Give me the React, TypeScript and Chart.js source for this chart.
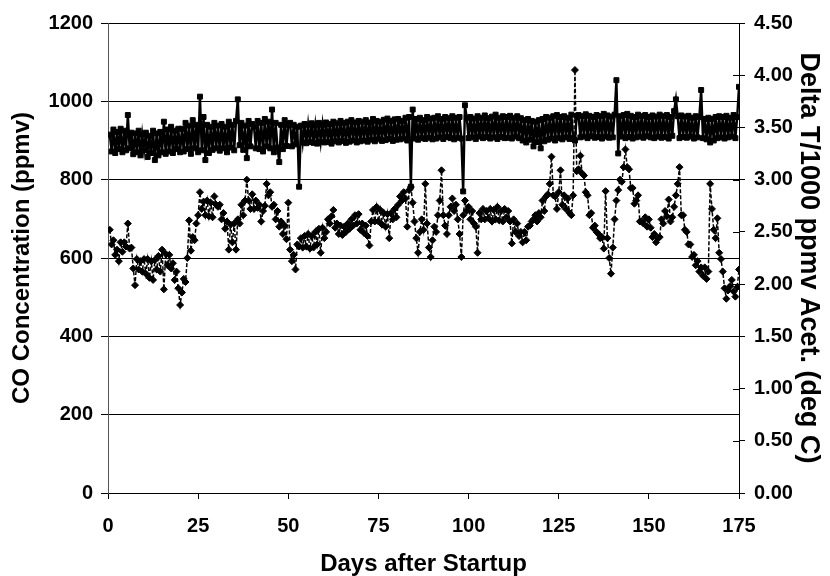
import React, { useEffect, useRef } from "react";
import { Chart, registerables } from "chart.js";

Chart.register(...registerables);

// Sampling grid (days after startup)
const FIRST_DAY = 0.5;
const DAY_STEP = 0.5;

// CO concentration (ppmv), left axis
const coPpmv: number[] = [
  915, 872, 928, 868, 922, 878, 930, 870, 925, 875, 965, 880, 920, 865, 918, 870, 925, 862, 915, 875,
  920, 858, 912, 868, 925, 850, 918, 862, 922, 870, 948, 866, 928, 872, 935, 868, 925, 878, 930, 870,
  930, 872, 945, 878, 938, 866, 952, 880, 940, 870, 1012, 875, 960, 850, 940, 868, 935, 876, 945, 880,
  938, 874, 942, 880, 935, 870, 948, 882, 940, 875, 950, 1005, 888, 945, 876, 938, 855, 950, 885, 942,
  935, 880, 950, 878, 945, 872, 955, 885, 948, 880, 979, 870, 945, 882, 845, 940, 878, 952, 886, 940,
  945, 885, 940, 890, 935, 782, 938, 895, 942, 893, 940, 896, 944, 894, 938, 892, 945, 897, 940, 895,
  946, 896, 942, 892, 948, 898, 944, 895, 950, 899, 945, 894, 948, 897, 952, 900, 946, 895, 950, 898,
  948, 900, 952, 897, 946, 902, 955, 898, 950, 903, 948, 899, 953, 901, 956, 904, 950, 899, 954, 902,
  955, 903, 950, 905, 958, 900, 960, 782, 979, 905, 955, 902, 958, 906, 952, 904, 960, 907, 956, 903,
  958, 905, 962, 908, 955, 904, 960, 909, 957, 906, 962, 903, 958, 907, 960, 905, 770, 990, 958, 906,
  960, 908, 956, 904, 962, 910, 958, 906, 964, 909, 957, 905, 961, 908, 966, 904, 958, 909, 962, 906,
  960, 907, 963, 905, 958, 910, 962, 906, 957, 900, 952, 895, 955, 902, 950, 885, 948, 896, 952, 880,
  955, 898, 960, 902, 958, 905, 962, 900, 965, 906, 960, 903, 962, 908, 958, 904, 966, 907, 900, 962,
  965, 908, 962, 910, 967, 906, 963, 911, 960, 907, 965, 909, 962, 905, 968, 910, 964, 907, 961, 908,
  966, 1054, 867, 962, 910, 965, 906, 968, 909, 963, 905, 960, 908, 966, 910, 962, 907, 965, 911, 960,
  908, 964, 906, 961, 910, 966, 907, 962, 909, 965, 905, 960, 912, 975, 1005, 962, 906, 964, 909, 961,
  907, 963, 910, 958, 905, 962, 908, 960, 1029, 906, 955, 903, 958, 895, 955, 900, 960, 906, 962, 908,
  960, 905, 963, 908, 958, 910, 965, 906, 960, 1037,
];

// Delta T per 1000 ppmv acetylene (deg C), right axis
const deltaT: number[] = [
  2.52, 2.38, 2.42, 2.28, 2.33, 2.22, 2.40, 2.31, 2.40, 2.36, 2.58, 2.34, 2.35, 2.15, 1.99, 2.24, 2.14, 2.22, 2.12, 2.24,
  2.10, 2.24, 2.06, 2.22, 2.04, 2.23, 2.14, 2.27, 2.12, 2.33, 1.95, 2.29, 2.18, 2.28, 2.15, 2.20, 2.04, 2.12, 1.96, 1.80,
  1.92, 2.05, 2.02, 2.25, 2.61, 2.32, 2.45, 2.42, 2.58, 2.66, 2.88, 2.72, 2.79, 2.66, 2.80, 2.65, 2.78, 2.64, 2.84, 2.76,
  2.74, 2.76, 2.62, 2.68, 2.53, 2.60, 2.33, 2.57, 2.40, 2.58, 2.33, 2.62, 2.58, 2.76, 2.66, 2.80, 3.00, 2.80, 2.72, 2.86,
  2.72, 2.80, 2.73, 2.76, 2.60, 2.70, 2.75, 2.96, 2.85, 2.88, 2.74, 2.76, 2.62, 2.70, 2.55, 2.60, 2.48, 2.56, 2.43, 2.78,
  2.33, 2.22, 2.28, 2.14, 2.38, 2.36, 2.44, 2.35, 2.46, 2.36, 2.48, 2.34, 2.46, 2.35, 2.50, 2.38, 2.53, 2.30, 2.54, 2.44,
  2.50, 2.62, 2.58, 2.65, 2.71, 2.54, 2.58, 2.48, 2.56, 2.47, 2.55, 2.50, 2.58, 2.53, 2.62, 2.56, 2.66, 2.58, 2.67, 2.52,
  2.58, 2.49, 2.56, 2.46, 2.37, 2.60, 2.71, 2.60, 2.74, 2.60, 2.71, 2.57, 2.68, 2.55, 2.67, 2.44, 2.68, 2.62, 2.72, 2.64,
  2.76, 2.84, 2.80, 2.88, 2.82, 2.55, 2.90, 2.93, 2.78, 2.60, 2.44, 2.30, 2.50, 2.62, 2.52, 2.96, 2.58, 2.35, 2.26, 2.42,
  2.55, 2.50, 2.66, 2.80, 3.09, 2.66, 2.56, 2.48, 2.66, 2.74, 2.82, 2.70, 2.76, 2.62, 2.48, 2.26, 2.66, 2.80, 2.70, 2.74,
  2.62, 2.70, 2.58, 2.55, 2.30, 2.68, 2.62, 2.72, 2.62, 2.70, 2.63, 2.72, 2.60, 2.71, 2.62, 2.74, 2.61, 2.70, 2.60, 2.72,
  2.64, 2.70, 2.60, 2.39, 2.62, 2.50, 2.58, 2.46, 2.50, 2.40, 2.50, 2.42, 2.55, 2.56, 2.60, 2.62, 2.66, 2.60, 2.68, 2.64,
  2.80, 2.70, 2.84, 2.86, 2.96, 3.22, 2.85, 2.84, 2.72, 2.88, 3.09, 2.76, 2.85, 2.72, 2.82, 2.68, 2.66, 2.85, 4.05, 3.08,
  3.10, 3.23, 3.06, 3.04, 2.88, 2.85, 2.66, 2.68, 2.54, 2.56, 2.50, 2.48, 2.44, 2.45, 2.34, 2.89, 2.44, 2.25, 2.10, 2.35,
  2.62, 2.80, 2.90, 3.00, 2.98, 3.12, 3.29, 3.12, 3.10, 2.92, 2.92, 2.77, 2.80, 2.85, 2.60, 2.60, 2.58, 2.64, 2.55, 2.62,
  2.54, 2.45, 2.48, 2.40, 2.44, 2.45, 2.62, 2.58, 2.70, 2.65, 2.81, 2.60, 2.64, 2.74, 2.85, 2.96, 3.12, 2.66, 2.66, 2.52,
  2.50, 2.38, 2.38, 2.26, 2.28, 2.18, 2.22, 2.12, 2.16, 2.08, 2.16, 2.05, 2.12, 2.96, 2.72, 2.52, 2.44, 2.63, 2.30, 2.24,
  2.12, 1.96, 1.86, 1.94, 1.98, 2.04, 1.93, 1.88, 1.97, 2.14,
];

const X_TICKS = [0, 25, 50, 75, 100, 125, 150, 175];
const LEFT_TICKS = [0, 200, 400, 600, 800, 1000, 1200];
const RIGHT_TICKS = [0, 0.5, 1, 1.5, 2, 2.5, 3, 3.5, 4, 4.5];

const FONT_FAMILY = "'Liberation Sans', Arial, sans-serif";

const innerRightTicks = {
  id: "innerRightTicks",
  afterDraw(chart: any) {
    const s = chart.scales.y2;
    if (!s) return;
    const ctx = chart.ctx;
    ctx.save();
    ctx.strokeStyle = "#000";
    ctx.lineWidth = 1;
    ctx.beginPath();
    for (const t of s.ticks) {
      const y = Math.round(s.getPixelForValue(t.value)) + 0.5;
      ctx.moveTo(s.left - 6, y);
      ctx.lineTo(s.left, y);
    }
    ctx.stroke();
    ctx.restore();
  },
};

export default function App() {
  const ref = useRef<HTMLCanvasElement | null>(null);

  useEffect(() => {
    if (!ref.current) return;
    const co = coPpmv.map((v, i) => ({ x: FIRST_DAY + DAY_STEP * i, y: v }));
    const dt = deltaT.map((v, i) => ({ x: FIRST_DAY + DAY_STEP * i, y: v }));
    const tickFont = { family: FONT_FAMILY, size: 20, weight: "bold" as const };
    const titleFont = { family: FONT_FAMILY, size: 24, weight: "bold" as const, lineHeight: 1 };
    const rightTitleFont = { family: FONT_FAMILY, size: 27, weight: "bold" as const, lineHeight: 1 };

    const chart = new Chart(ref.current, {
      type: "line",
      data: {
        datasets: [
          {
            label: "CO Concentration",
            data: co,
            yAxisID: "y",
            borderColor: "#000",
            backgroundColor: "#000",
            borderWidth: 2.4,
            pointStyle: "rect",
            pointRadius: 3.5,
            pointBorderWidth: 1,
            pointBorderColor: "#000",
            pointBackgroundColor: "#000",
            tension: 0,
          },
          {
            label: "Delta T",
            data: dt,
            yAxisID: "y2",
            borderColor: "#000",
            backgroundColor: "#000",
            borderWidth: 1.5,
            borderDash: [4, 2],
            pointStyle: "rectRot",
            pointRadius: 3.5,
            pointBorderWidth: 1,
            pointBorderColor: "#000",
            pointBackgroundColor: "#000",
            tension: 0,
          },
        ],
      },
      options: {
        responsive: false,
        animation: false,
        devicePixelRatio: 1,
        layout: { padding: { top: 23, left: 0, right: 0, bottom: 0 } },
        plugins: { legend: { display: false }, tooltip: { enabled: false } },
        scales: {
          x: {
            type: "linear",
            min: 0,
            max: 175,
            afterBuildTicks: (s: any) => {
              s.ticks = X_TICKS.map((v) => ({ value: v }));
            },
            afterFit: (s: any) => {
              s.height = 83;
            },
            ticks: { font: tickFont, color: "#000", padding: 15, maxRotation: 0, autoSkip: false },
            grid: { drawOnChartArea: false, drawTicks: true, tickLength: 6, color: "#000" },
            border: { display: true, color: "#000", width: 1 },
            title: {
              display: true,
              text: "Days after Startup",
              font: titleFont,
              color: "#000",
              padding: { top: 0, bottom: 0 },
            },
          },
          y: {
            type: "linear",
            position: "left",
            min: 0,
            max: 1200,
            afterBuildTicks: (s: any) => {
              s.ticks = LEFT_TICKS.map((v) => ({ value: v }));
            },
            afterFit: (s: any) => {
              s.width = 108;
            },
            ticks: { font: tickFont, color: "#000", padding: 8, callback: (v: any) => String(v) },
            grid: { drawOnChartArea: true, drawTicks: true, tickLength: 7, color: "#000" },
            border: { display: true, color: "#555", width: 1 },
            title: {
              display: true,
              text: "CO Concentration (ppmv)",
              font: titleFont,
              color: "#000",
              padding: { top: 10, bottom: 0 },
            },
          },
          y2: {
            type: "linear",
            position: "right",
            min: 0,
            max: 4.5,
            afterBuildTicks: (s: any) => {
              s.ticks = RIGHT_TICKS.map((v) => ({ value: v }));
            },
            afterFit: (s: any) => {
              s.width = 91;
            },
            ticks: {
              font: tickFont,
              color: "#000",
              padding: 9,
              callback: (v: any) => Number(v).toFixed(2),
            },
            grid: { drawOnChartArea: false, drawTicks: true, tickLength: 6, color: "#000" },
            border: { display: true, color: "#000", width: 1 },
            title: {
              display: true,
              text: "Delta T/1000 ppmv Acet. (deg C)",
              font: rightTitleFont,
              color: "#000",
              padding: { top: 8, bottom: 0 },
            },
          },
        },
      },
      plugins: [innerRightTicks],
    } as any);
    return () => chart.destroy();
  }, []);

  return (
    <div style={{ position: "absolute", left: 0, top: 0, width: 830, height: 576, background: "#fff" }}>
      <canvas ref={ref} width={830} height={576} style={{ display: "block" }} />
    </div>
  );
}
